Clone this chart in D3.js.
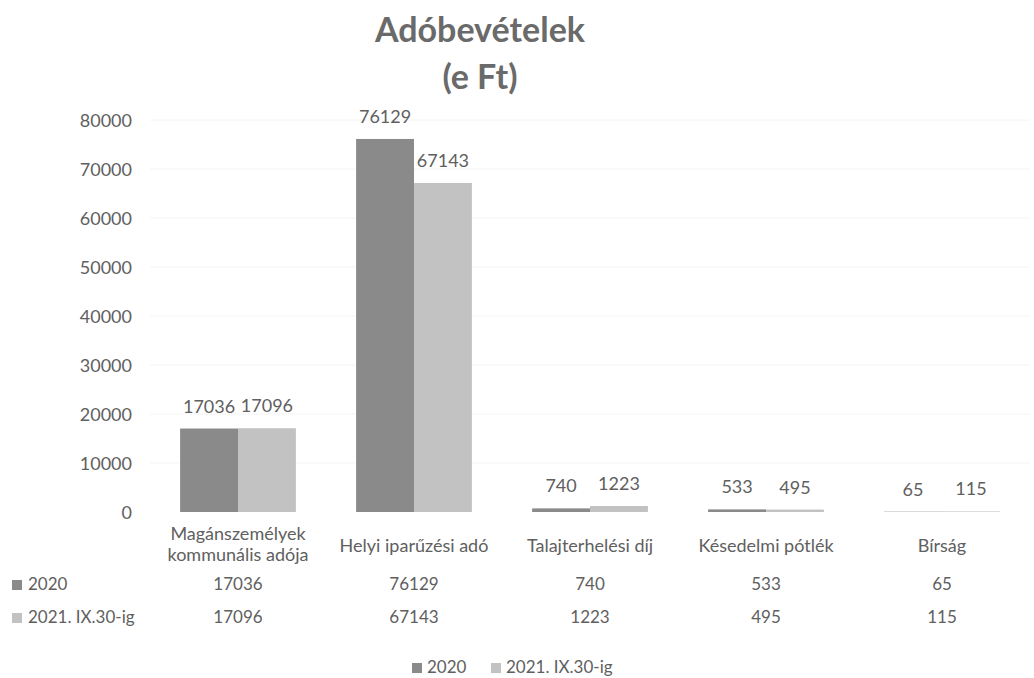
<!DOCTYPE html>
<html><head><meta charset="utf-8">
<script src="https://cdn.jsdelivr.net/npm/d3@7/dist/d3.min.js"></script>
<style>body{margin:0;background:#fff}svg{display:block}text{font-family:Lato,"Open Sans",sans-serif}</style>
</head><body><svg id="c" width="1034" height="678"></svg>
<script>
const categories = [["Magánszemélyek","kommunális adója"],["Helyi iparűzési adó"],["Talajterhelési díj"],["Késedelmi pótlék"],["Bírság"]];
const seriesNames = ["2020","2021. IX.30-ig"];
const values2020 = [17036, 76129, 740, 533, 65];
const values2021 = [17096, 67143, 1223, 495, 115];
const yTicks = [0,10000,20000,30000,40000,50000,60000,70000,80000];
const title = ["Adóbevételek","(e Ft)"];

const colors = ["#8a8a8a","#c2c2c2"];
const txt = "#606060";
const svg = d3.select("#c");
const series = [values2020, values2021];
const x0 = d3.scaleBand().domain(d3.range(categories.length)).range([150,1030]).padding(0);
const x1 = d3.scaleBand().domain(d3.range(seriesNames.length)).range([0,x0.bandwidth()]).paddingInner(0).paddingOuter(0.52);
const y = d3.scaleLinear().domain([0,80000]).range([512,120]);

// title
svg.selectAll("text.title").data(title).join("text").attr("class","title")
  .attr("x",480).attr("y",(d,i)=>i===0?42:89).attr("text-anchor","middle")
  .attr("font-size",34).attr("font-weight","bold").attr("fill","#6a6a6a").text(d=>d);

// grid
svg.append("g").selectAll("line").data(yTicks.slice(1)).join("line")
  .attr("x1",150).attr("x2",1030).attr("y1",d=>y(d)).attr("y2",d=>y(d))
  .attr("stroke","#f4f4f4").attr("stroke-width",1);

// y axis
const ya = svg.append("g").attr("transform","translate(132,0)")
  .call(d3.axisLeft(y).tickValues(yTicks).tickSize(0).tickPadding(0).tickFormat(d3.format("d")));
ya.select(".domain").remove();
ya.selectAll("text").attr("font-size",18).attr("fill",txt).attr("dy","0.36em").style("font-family","Lato,sans-serif");

// bars
const g = svg.append("g");
series.forEach((vals,si)=>{
  g.selectAll("rect.s"+si).data(vals).join("rect").attr("class","s"+si)
    .attr("x",(d,i)=>x0(i)+x1(si)).attr("width",x1.bandwidth())
    .attr("y",d=>y(d)).attr("height",d=>y(0)-y(d)).attr("fill",colors[si]);
  g.selectAll("text.l"+si).data(vals).join("text").attr("class","l"+si)
    .attr("x",(d,i)=>x0(i)+x1(si)+x1.bandwidth()/2).attr("y",d=>y(d)-16)
    .attr("text-anchor","middle").attr("font-size",18).attr("fill",txt).text(d=>d);
});

// category labels
categories.forEach((c,i)=>{
  const cx = x0(i)+x0.bandwidth()/2;
  const t = svg.append("text").attr("text-anchor","middle").attr("font-size",18).attr("fill",txt);
  if(c.length===1){ t.append("tspan").attr("x",cx).attr("y",552).text(c[0]); }
  else { c.forEach((s,k)=>t.append("tspan").attr("x",cx).attr("y",540+k*21).text(s)); }
});

// data table
const rowsY = [590,623];
series.forEach((vals,si)=>{
  svg.append("rect").attr("x",12).attr("y",rowsY[si]-10).attr("width",10).attr("height",10).attr("fill",colors[si]);
  svg.append("text").attr("x",28).attr("y",rowsY[si]).attr("font-size",17).attr("fill",txt).text(seriesNames[si]);
  svg.selectAll("text.t"+si).data(vals).join("text").attr("class","t"+si)
    .attr("x",(d,i)=>x0(i)+x0.bandwidth()/2).attr("y",rowsY[si]).attr("text-anchor","middle")
    .attr("font-size",17).attr("fill",txt).text(d=>d);
});

// legend
const lg = svg.append("g");
const lx = [412, 491];
seriesNames.forEach((n,i)=>{
  lg.append("rect").attr("x",lx[i]).attr("y",663).attr("width",10).attr("height",10).attr("fill",colors[i]);
  lg.append("text").attr("x",lx[i]+15).attr("y",673).attr("font-size",17).attr("fill",txt).text(n);
});
</script></body></html>
